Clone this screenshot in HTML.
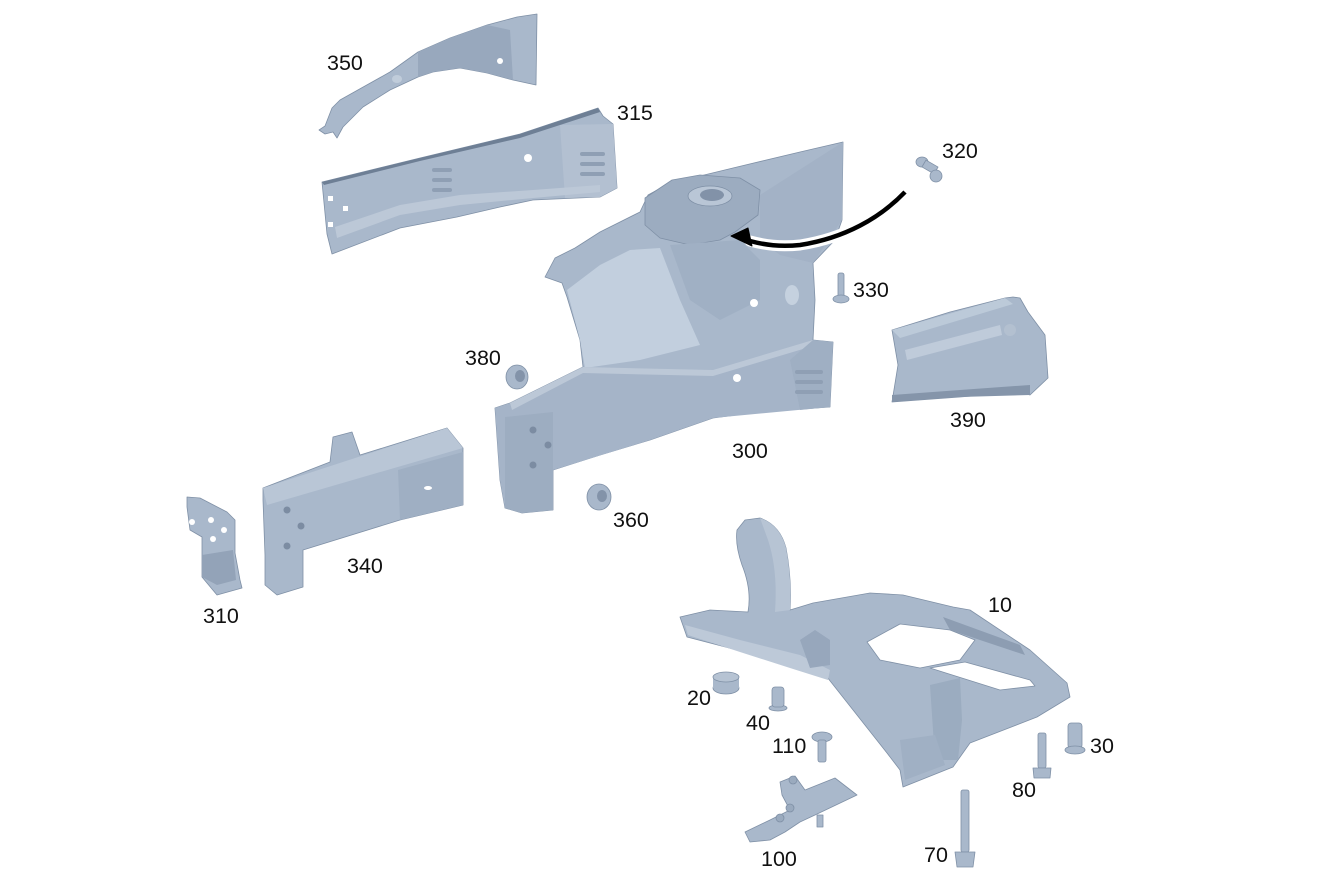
<!DOCTYPE html>
<html><head><meta charset="utf-8"><style>
html,body{margin:0;padding:0;background:#fff;}
svg{display:block;}
text{font-family:"Liberation Sans",Arial,sans-serif;font-size:21.5px;fill:#111;}
</style></head><body>
<svg width="1326" height="881" viewBox="0 0 1326 881" xmlns="http://www.w3.org/2000/svg">
<g fill="#a9b8cb" stroke="#7f90a6" stroke-width="0.8" stroke-linejoin="round">

<!-- 350 -->
<path d="M319,130 L325,126 L332,108 L340,100 L365,86 L390,72 L418,52 L450,38 L487,25 L517,17 L537,14 L536,85 L513,80 L487,73 L460,68 L433,72 L418,77 L390,90 L363,107 L343,127 L337,138 L333,132 L325,134 Z"/>
<path d="M418,52 L450,38 L487,25 L510,30 L513,80 L487,73 L460,68 L433,72 L418,77 Z" fill="#98a8bd" stroke="none"/>
<ellipse cx="397" cy="79" rx="5" ry="4" fill="#c0ccda" stroke="none"/>
<ellipse cx="500" cy="61" rx="3" ry="3" fill="#ffffff" stroke="none"/>

<!-- 315 -->
<path d="M322,182 L420,158 L520,134 L598,108 L603,116 L613,124 L617,188 L600,197 L533,200 L500,207 L457,217 L400,228 L332,254 L327,234 Z"/>
<path d="M322,182 L420,158 L520,134 L598,108 L600,112 L520,138 L420,161 L324,185 Z" fill="#6e7f95" stroke="none"/>
<path d="M560,125 L613,124 L617,188 L600,197 L565,198 Z" fill="#b3c0d1" stroke="none"/>
<path d="M335,227 L400,205 L460,195 L533,190 L600,185 L600,192 L533,198 L460,205 L400,215 L337,238 Z" fill="#bcc8d7" stroke="none"/>
<g fill="#8f9fb4" stroke="none">
<rect x="432" y="168" width="20" height="4" rx="2"/><rect x="432" y="178" width="20" height="4" rx="2"/><rect x="432" y="188" width="20" height="4" rx="2"/>
<rect x="580" y="152" width="25" height="4" rx="2"/><rect x="580" y="162" width="25" height="4" rx="2"/><rect x="580" y="172" width="25" height="4" rx="2"/>
</g>
<g fill="#ffffff" stroke="none">
<rect x="328" y="196" width="5" height="5"/><rect x="343" y="206" width="5" height="5"/><rect x="328" y="222" width="5" height="5"/>
<circle cx="528" cy="158" r="4"/>
</g>

<!-- 300 main -->
<path d="M555,258 L575,248 L600,232 L640,212 L648,195 L672,182 L700,176 L733,168 L800,152 L843,142 L842,220 L835,240 L813,263 L815,300 L813,340 L833,342 L830,407 L760,412 L713,418 L650,440 L600,455 L553,470 L553,510 L522,513 L505,508 L500,480 L495,408 L510,403 L583,367 L580,340 L567,297 L562,283 L545,277 Z"/>
<path d="M567,290 L600,265 L630,250 L660,248 L680,300 L700,345 L640,360 L585,368 L580,340 Z" fill="#c2cfde" stroke="none"/>
<path d="M645,198 L672,180 L700,175 L740,178 L760,190 L758,215 L735,232 L720,240 L690,245 L660,238 L645,225 Z" fill="#9cacc0" stroke="#7f90a6"/>
<ellipse cx="710" cy="196" rx="22" ry="10" fill="#b9c6d6" stroke="#7f90a6"/>
<ellipse cx="712" cy="195" rx="12" ry="6" fill="#8292a8" stroke="none"/>
<path d="M670,245 L740,240 L760,260 L760,300 L720,320 L690,300 Z" fill="#a0b0c4" stroke="none"/>
<path d="M760,195 L843,142 L842,220 L813,263 L780,255 L760,240 Z" fill="#a3b2c6" stroke="none"/>
<ellipse cx="792" cy="295" rx="7" ry="10" fill="#c5d1df" stroke="none"/>
<circle cx="754" cy="303" r="4" fill="#fff" stroke="none"/>
<path d="M510,403 L583,367 L713,370 L813,340 L833,342 L830,407 L713,418 L650,440 L553,470 L553,510 L522,513 L505,508 L500,480 L495,408 Z" fill="#a5b4c8" stroke="none"/>
<path d="M510,403 L583,367 L713,370 L813,340 L813,346 L713,376 L583,373 L512,410 Z" fill="#bcc8d7" stroke="none"/>
<path d="M813,340 L833,342 L830,407 L800,410 L790,360 Z" fill="#9fafc3" stroke="none"/>
<g fill="#8f9fb4" stroke="none">
<rect x="795" y="370" width="28" height="4" rx="2"/><rect x="795" y="380" width="28" height="4" rx="2"/><rect x="795" y="390" width="28" height="4" rx="2"/>
</g>
<circle cx="737" cy="378" r="4" fill="#fff" stroke="none"/>
<path d="M505,417 L553,412 L553,510 L522,513 L505,508 Z" fill="#9dadc1" stroke="none"/>
<circle cx="533" cy="430" r="3.5" fill="#7c8ca2" stroke="none"/>
<circle cx="548" cy="445" r="3.5" fill="#7c8ca2" stroke="none"/>
<circle cx="533" cy="465" r="3.5" fill="#7c8ca2" stroke="none"/>

<!-- 390 -->
<path d="M892,330 L950,312 L1005,298 L1013,297 L1020,298 L1028,312 L1045,335 L1048,378 L1030,395 L1020,392 L960,397 L892,402 L898,365 Z"/>
<path d="M892,330 L1005,298 L1013,304 L900,338 Z" fill="#bccad9" stroke="none"/>
<path d="M905,350 L1000,325 L1002,335 L907,360 Z" fill="#bfcbda" stroke="none"/>
<path d="M892,395 L960,390 L1030,385 L1030,395 L960,397 L892,402 Z" fill="#8595aa" stroke="none"/>
<circle cx="1010" cy="330" r="6" fill="#b3c0d0" stroke="none"/>

<!-- 340 -->
<path d="M263,488 L330,462 L333,437 L352,432 L360,455 L447,428 L463,448 L463,505 L400,520 L303,550 L303,587 L277,595 L265,585 L265,555 L263,500 Z"/>
<path d="M263,488 L447,428 L463,448 L267,505 Z" fill="#b9c6d6" stroke="none"/>
<path d="M398,470 L463,452 L463,505 L400,520 Z" fill="#9fafc3" stroke="none"/>
<circle cx="287" cy="510" r="3.5" fill="#7c8ca2" stroke="none"/>
<circle cx="301" cy="526" r="3.5" fill="#7c8ca2" stroke="none"/>
<circle cx="287" cy="546" r="3.5" fill="#7c8ca2" stroke="none"/>
<ellipse cx="428" cy="488" rx="4" ry="2" fill="#fff" stroke="none"/>

<!-- 310 -->
<path d="M187,497 L200,498 L227,512 L235,520 L235,553 L240,580 L242,588 L217,595 L202,577 L202,537 L190,530 L187,507 Z"/>
<path d="M202,555 L233,550 L236,580 L217,585 L202,577 Z" fill="#93a3b8" stroke="none"/>
<circle cx="211" cy="520" r="3" fill="#fff" stroke="none"/>
<circle cx="224" cy="530" r="3" fill="#fff" stroke="none"/>
<circle cx="213" cy="539" r="3" fill="#fff" stroke="none"/>
<circle cx="192" cy="522" r="3" fill="#fff" stroke="none"/>

<!-- 10 subframe -->
<path d="M680,617 L710,610 L748,612 Q752,590 742,565 Q735,545 737,530 L745,520 L760,518 Q780,525 786,548 Q792,580 790,610 L813,603 L870,593 L903,595 L953,607 L970,610 L1030,650 L1067,683 L1070,697 L1037,717 L970,743 L953,767 L903,787 L900,770 L887,753 L827,677 L787,663 L737,650 L687,637 Z"/>
<path d="M760,518 Q780,525 786,548 Q792,580 790,610 L775,612 Q778,570 768,540 Z" fill="#b7c4d4" stroke="none"/>
<path d="M867,642 L900,624 L950,630 L975,640 L960,660 L920,668 L880,660 Z" fill="#fff" stroke="#7f90a6"/>
<path d="M930,668 L965,662 L1030,680 L1035,686 L1000,690 Z" fill="#fff" stroke="#7f90a6"/>
<path d="M943,617 L1020,645 L1025,655 L950,630 Z" fill="#8d9db2" stroke="none"/>
<path d="M930,685 L960,678 L962,720 L958,760 L935,760 Z" fill="#9bacc0" stroke="none"/>
<path d="M900,740 L935,735 L945,765 L905,780 Z" fill="#a0b0c4" stroke="none"/>
<path d="M685,625 L740,640 L800,655 L830,670 L828,680 L790,668 L740,652 L688,635 Z" fill="#bdc9d8" stroke="none"/>
<path d="M800,640 L815,630 L830,640 L830,665 L810,668 Z" fill="#97a7bc" stroke="none"/>

<!-- arrow -->
<path d="M905,192 C880,218 845,238 800,245 C780,247 765,245 750,241" fill="none" stroke="#fff" stroke-width="11" stroke-linecap="round"/>
<path d="M905,192 C880,218 845,238 800,245 C780,247 765,245 750,241" fill="none" stroke="#000" stroke-width="4.5"/>
<polygon points="731,236 748,228 752,246" fill="#000" stroke="#000" stroke-width="1"/>

<!-- 320 ball stud -->
<ellipse cx="922" cy="162" rx="6" ry="5"/>
<rect x="923" y="163" width="14" height="8" transform="rotate(30 930 167)"/>
<circle cx="936" cy="176" r="6"/>
<!-- 330 bolt -->
<rect x="838" y="273" width="6" height="24" rx="2"/>
<ellipse cx="841" cy="299" rx="8" ry="4"/>

<!-- 380 nut -->
<ellipse cx="517" cy="377" rx="11" ry="12"/>
<ellipse cx="520" cy="376" rx="5" ry="6" fill="#8393a9" stroke="none"/>
<!-- 360 nut -->
<ellipse cx="599" cy="497" rx="12" ry="13"/>
<ellipse cx="602" cy="496" rx="5" ry="6" fill="#8393a9" stroke="none"/>

<!-- 20 -->
<ellipse cx="726" cy="688" rx="13" ry="6"/>
<rect x="713" y="677" width="26" height="11" stroke="none"/>
<ellipse cx="726" cy="677" rx="13" ry="5" fill="#b6c3d3"/>
<!-- 40 -->
<ellipse cx="778" cy="708" rx="9" ry="3"/>
<rect x="772" y="687" width="12" height="20" rx="3"/>
<!-- 110 -->
<ellipse cx="822" cy="737" rx="10" ry="5"/>
<rect x="818" y="740" width="8" height="22" rx="2"/>
<!-- 100 bracket -->
<path d="M780,782 L795,776 L805,790 L835,778 L857,795 L815,815 L800,822 L785,832 L770,840 L750,842 L745,832 L770,820 L790,810 L782,795 Z"/>
<circle cx="793" cy="780" r="4" fill="#9aaabe"/>
<circle cx="790" cy="808" r="4" fill="#9aaabe"/>
<circle cx="780" cy="818" r="4" fill="#9aaabe"/>
<rect x="817" y="815" width="6" height="12"/>
<!-- 80 bolt -->
<rect x="1038" y="733" width="8" height="35" rx="2"/>
<path d="M1033,768 L1051,768 L1050,778 L1034,778 Z"/>
<!-- 30 -->
<rect x="1068" y="723" width="14" height="25" rx="3"/>
<ellipse cx="1075" cy="750" rx="10" ry="4"/>
<!-- 70 bolt -->
<rect x="961" y="790" width="8" height="62" rx="2"/>
<path d="M955,852 L975,852 L973,867 L957,867 Z"/>
</g>

<!-- labels -->
<text x="327" y="70">350</text>
<text x="617" y="120">315</text>
<text x="942" y="158">320</text>
<text x="853" y="297">330</text>
<text x="465" y="365">380</text>
<text x="950" y="427">390</text>
<text x="732" y="458">300</text>
<text x="613" y="527">360</text>
<text x="347" y="573">340</text>
<text x="203" y="623">310</text>
<text x="988" y="612">10</text>
<text x="687" y="705">20</text>
<text x="746" y="730">40</text>
<text x="772" y="753">110</text>
<text x="1090" y="753">30</text>
<text x="1012" y="797">80</text>
<text x="761" y="866">100</text>
<text x="924" y="862">70</text>
</svg>
</body></html>
